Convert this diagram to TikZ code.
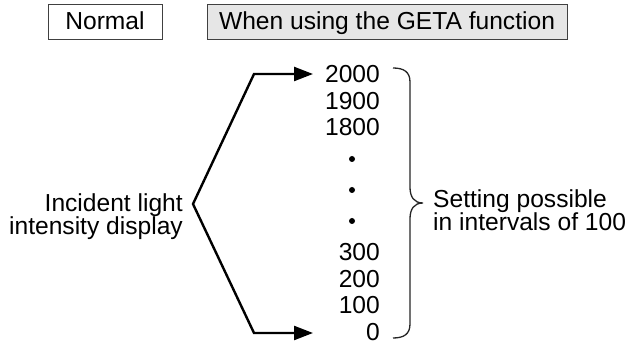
\documentclass[tikz,border=0pt]{standalone}
\usepackage{fontspec}
\setmainfont{Liberation Sans}
\usetikzlibrary{arrows.meta}
\definecolor{tabgray}{RGB}{230,230,230}

\begin{document}
\begin{tikzpicture}[x=1pt,y=-1pt,inner sep=0pt,
		font=\fontsize{24.6}{23}\selectfont,
		tab/.style={draw=black!75,line width=1pt,minimum height=35pt,text height=17.5pt,text depth=3pt},
		arr/.style={line width=2.4pt,{Triangle[length=19pt,width=14pt]}-{Triangle[length=19pt,width=14pt]}},
		brace/.style={draw=black!85,line width=1.3pt}]
		\useasboundingbox (0,0) rectangle (633,347);
		\node[tab,minimum width=114pt] (Normal) at (105,22.5) {Normal};
		\node[tab,minimum width=360pt,fill=tabgray] (GETA) at (387,22.5) {When using the GETA function};
		\foreach \v/\y [count=\i] in {2000/74,1900/101,1800/127,300/252,200/279,100/305,0/332}
			\node[anchor=east] (V\i) at (380,\y) {\v};
		\foreach \y [count=\i] in {159,190,221}
			\node[circle,fill,minimum size=6pt] (D\i) at (352,\y) {};
		\coordinate (P) at (193,204);
		\coordinate (P_1) at (254,74);
		\coordinate (P_2) at (254,333);
		\coordinate (T_1) at (313,74);
		\coordinate (T_2) at (313,333);
		\draw[arr] (T_1)--(P_1)--(P)--(P_2)--(T_2);
		\node[anchor=east,align=right] (Incident) at (183,217) {Incident light\\intensity display};
		\coordinate (B_1) at (393,68);
		\coordinate (B) at (423,203);
		\coordinate (B_2) at (393,338);
		\draw[brace] (B_1) .. controls (404,68) and (410,72) .. (410,82) -- (410,187)
			.. controls (410,197) and (414,203) .. (B)
			.. controls (414,203) and (410,209) .. (410,219) -- (410,324)
			.. controls (410,334) and (404,338) .. (B_2);
		\node[anchor=west,align=left] (Setting) at (433,210) {Setting possible\\in intervals of 100};
\end{tikzpicture}
\end{document}
